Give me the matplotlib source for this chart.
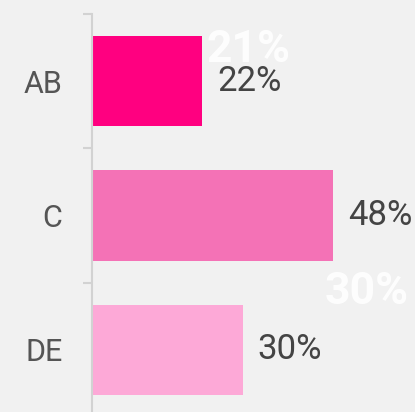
import matplotlib.pyplot as plt

# data
categories = ["AB", "C", "DE"]
shares = [22, 48, 30]
bar_colors = ["#ff0080", "#f472b6", "#fda9d7"]
# faint white labels left behind in the picture
ghost_labels = ["21%", "30%"]
ghost_x = [22.8, 46.2]
ghost_y = [-0.23, 1.57]

FONT = ["Roboto", "DejaVu Sans"]
BG = "#f1f1f1"
AXIS = "#d2d2d2"


def main():
    plt.rcParams["font.family"] = FONT

    fig = plt.figure(figsize=(4.15, 4.12), dpi=100, facecolor=BG)
    # spine at x=91px, top at 14px, bands run just past the bottom edge
    ax = fig.add_axes([91.5 / 415, -5 / 412, 320 / 415, 403 / 412])
    ax.set_facecolor(BG)

    ypos = list(range(len(categories)))
    ax.barh(ypos, shares, height=0.67, color=bar_colors, left=0)

    px_per_unit = 5.04
    ax.set_xlim(0, 320 / px_per_unit)
    ax.set_ylim(len(categories) - 0.5, -0.5)

    for lab, x, y in zip(ghost_labels, ghost_x, ghost_y):
        ax.text(x, y, lab, ha="left", va="center", fontsize=32,
                fontweight="bold", color="white", alpha=0.9, zorder=0)

    for y, v in zip(ypos, shares):
        ax.annotate(f"{v}%", (v, y), xytext=(15, 0), textcoords="offset pixels",
                    ha="left", va="center", fontsize=25, color="#444444")

    for s in ["top", "right", "bottom"]:
        ax.spines[s].set_visible(False)
    ax.spines["left"].set_color(AXIS)
    ax.spines["left"].set_linewidth(1.5)

    ax.set_xticks([])
    ax.set_yticks(ypos)
    ax.set_yticklabels(categories, fontsize=22, color="#555555")
    ax.tick_params(axis="y", which="major", length=0, pad=21)
    ax.set_yticks([-0.5, 0.5, 1.5], minor=True)
    ax.tick_params(axis="y", which="minor", length=6.5, width=1.5, color=AXIS)

    fig.savefig("out.png", dpi=100, facecolor=BG)
    plt.close(fig)


if __name__ == "__main__":
    main()
